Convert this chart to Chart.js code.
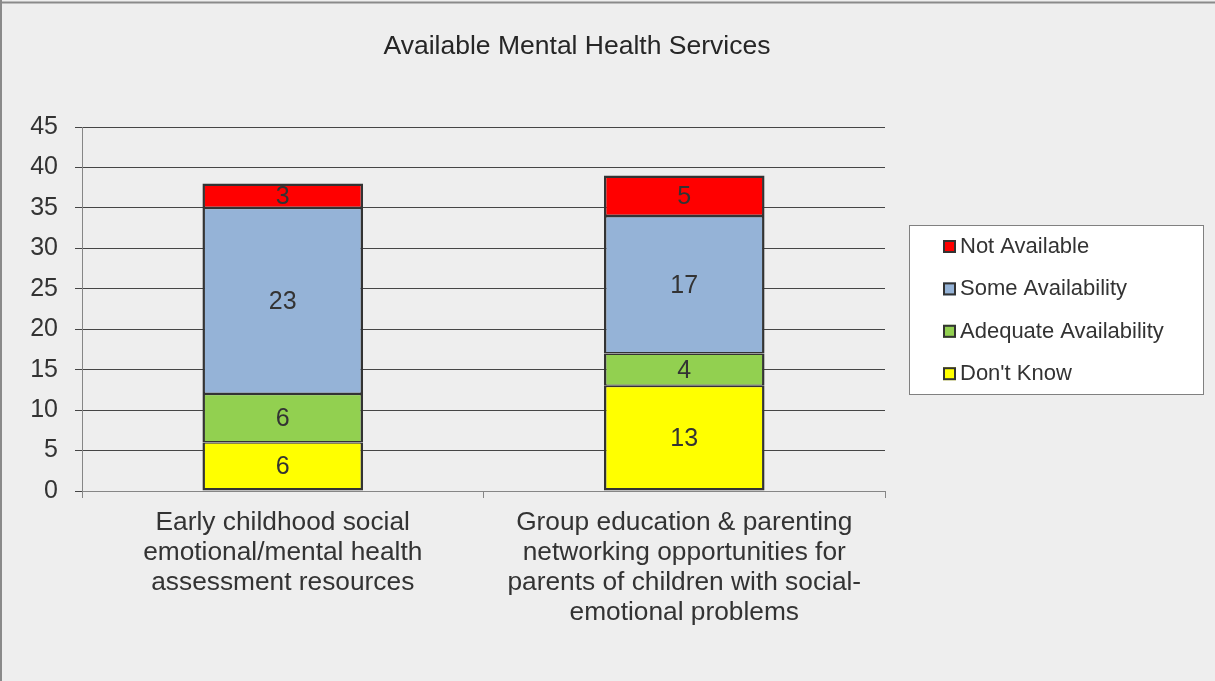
<!DOCTYPE html>
<html>
<head>
<meta charset="utf-8">
<script src="https://cdn.jsdelivr.net/npm/chart.js@4"></script>
<style>
  html, body { margin: 0; padding: 0; background: #eeeeee; overflow: hidden; }
  canvas { display: block; }
</style>
</head>
<body>
<canvas id="c" width="1215" height="681"></canvas>
<script>
const chartTitle = "Available Mental Health Services";
const categories = [
  ["Early childhood social", "emotional/mental health", "assessment resources"],
  ["Group education & parenting", "networking opportunities for", "parents of children with social-", "emotional problems"]
];
const seriesNames = ["Don't Know", "Adequate Availability", "Some Availability", "Not Available"];
const seriesColors = ["#ffff00", "#92d050", "#95b3d7", "#ff0000"];
const dontKnow = [6, 13];
const adequate = [6, 4];
const someAvail = [23, 17];
const notAvail = [3, 5];
const yMin = 0, yMax = 45, yStep = 5;

const FONT = "'Liberation Sans', Arial, sans-serif";
const TEXT = "#333333";

const seriesValues = [dontKnow, adequate, someAvail, notAvail];
const last = seriesNames.length - 1;
const datasets = seriesNames.map((n, i) => ({
  label: n,
  data: seriesValues[i],
  backgroundColor: seriesColors[i],
  borderColor: "#333333",
  borderWidth: { left: 2.5, right: 2.5, top: i === last ? 2.5 : 1.4, bottom: i === 0 ? 2.5 : 1.4 },
  borderSkipped: false,
  categoryPercentage: 1.0,
  barPercentage: 0.4
}));

const decor = {
  id: "decor",
  beforeDraw(chart) {
    const ctx = chart.ctx;
    ctx.save();
    ctx.fillStyle = "#eeeeee";
    ctx.fillRect(0, 0, chart.width, chart.height);
    ctx.strokeStyle = "#8a8a8a";
    ctx.lineWidth = 2;
    ctx.beginPath();
    ctx.moveTo(0, 2.5); ctx.lineTo(chart.width, 2.5);
    ctx.moveTo(1, 0); ctx.lineTo(1, chart.height);
    ctx.stroke();
    ctx.restore();
  },
  afterDatasetsDraw(chart) {
    const ctx = chart.ctx;
    ctx.save();
    ctx.font = "25px " + FONT;
    ctx.fillStyle = TEXT;
    ctx.textAlign = "center";
    ctx.textBaseline = "middle";
    chart.data.datasets.forEach((ds, di) => {
      const meta = chart.getDatasetMeta(di);
      meta.data.forEach((el, i) => {
        const v = ds.data[i];
        ctx.fillText(String(v), el.x, (el.y + el.base) / 2 + 1);
      });
    });
    ctx.restore();
  },
  afterDraw(chart) {
    const ctx = chart.ctx;
    ctx.save();
    // title
    ctx.font = "26.5px " + FONT;
    ctx.fillStyle = "#262626";
    ctx.textAlign = "center";
    ctx.textBaseline = "middle";
    ctx.fillText(chartTitle, 577, 47);
    // legend box
    const lx = 909.5, ly = 225.5, lw = 294, lh = 169;
    ctx.fillStyle = "#ffffff";
    ctx.fillRect(lx, ly, lw, lh);
    ctx.strokeStyle = "#808080";
    ctx.lineWidth = 1;
    ctx.strokeRect(lx, ly, lw, lh);
    const dsList = chart.data.datasets.slice().reverse();
    ctx.font = "22px " + FONT;
    ctx.textAlign = "left";
    dsList.forEach((ds, k) => {
      const cy = 246 + k * 42.4;
      ctx.fillStyle = ds.backgroundColor;
      ctx.fillRect(943, cy - 6, 13, 13);
      ctx.strokeStyle = "#333333";
      ctx.lineWidth = 2;
      ctx.strokeRect(944, cy - 5, 11, 11);
      ctx.fillStyle = TEXT;
      ctx.fillText(ds.label, 960, cy + 1);
    });
    ctx.restore();
  }
};

new Chart(document.getElementById("c"), {
  type: "bar",
  data: { labels: categories, datasets },
  options: {
    responsive: false,
    animation: false,
    layout: { padding: { top: 127, right: 330, bottom: 0, left: 0 } },
    plugins: { legend: { display: false }, title: { display: false }, tooltip: { enabled: false } },
    scales: {
      x: {
        stacked: true,
        grid: { offset: true, drawOnChartArea: false, color: "#868686", tickLength: 7 },
        border: { color: "#868686" },
        ticks: { font: { family: FONT, size: 26.3, lineHeight: 1.14 }, color: TEXT, padding: 10, maxRotation: 0, autoSkip: false },
        afterFit: s => { s.height = 190; }
      },
      y: {
        stacked: true,
        min: yMin, max: yMax,
        ticks: { stepSize: yStep, font: { family: FONT, size: 25 }, color: TEXT, padding: 17 },
        grid: { color: "#454545", tickLength: 7 },
        border: { color: "#868686" },
        afterFit: s => { s.width = 82; }
      }
    }
  },
  plugins: [decor]
});
</script>
</body>
</html>
